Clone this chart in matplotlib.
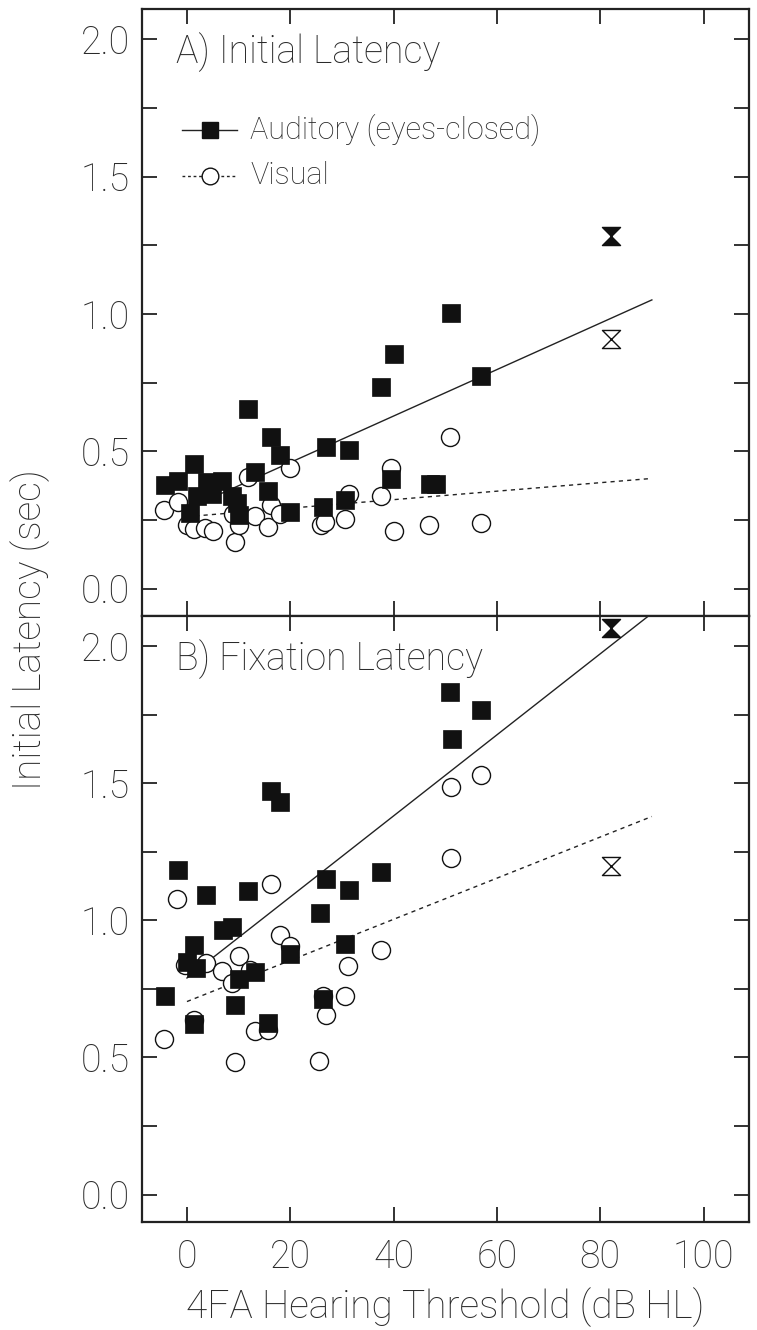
import matplotlib
matplotlib.use("Agg")
import matplotlib.pyplot as plt
from matplotlib.path import Path
from matplotlib.ticker import FixedLocator, FuncFormatter

plt.rcParams["font.family"] = ["Roboto", "DejaVu Sans"]
plt.rcParams["font.weight"] = "light"
plt.rcParams["axes.labelweight"] = "light"

# --- data ---
# A) initial latency
aud_a_x = [-4.3, -1.8, 0.6, 1.3, 1.9, 3.9, 4.8, 6.8, 8.7, 9.7, 10.0, 11.9, 13.1, 15.7,
           16.3, 18.1, 20.0, 26.3, 26.9, 30.6, 31.3, 37.5, 39.5, 40.0, 47.0, 48.2, 51.2, 57.0]
aud_a_y = [0.377, 0.393, 0.277, 0.452, 0.338, 0.387, 0.344, 0.393, 0.338, 0.31, 0.268, 0.654,
           0.423, 0.356, 0.553, 0.487, 0.280, 0.296, 0.515, 0.324, 0.505, 0.734, 0.399, 0.855,
           0.381, 0.379, 1.005, 0.774]
vis_a_x = [-4.4, -1.8, 0.0, 1.3, 3.5, 5.0, 9.0, 9.3, 10.0, 11.8, 13.2, 15.7, 16.2, 18.1, 19.9,
           26.0, 26.8, 30.6, 31.3, 37.5, 39.5, 40.0, 46.9, 51.0, 57.0]
vis_a_y = [0.285, 0.314, 0.232, 0.216, 0.219, 0.211, 0.27, 0.170, 0.233, 0.407, 0.265, 0.225,
           0.304, 0.271, 0.439, 0.231, 0.243, 0.253, 0.344, 0.338, 0.438, 0.211, 0.231, 0.553, 0.237]

# B) fixation latency
aud_b_x = [-4.3, -1.8, 0.0, 1.3, 1.3, 1.8, 3.7, 7.0, 8.7, 9.3, 10.1, 11.9, 13.1, 15.7, 16.3,
           18.1, 20.0, 25.7, 26.3, 26.9, 30.6, 31.3, 37.5, 51.0, 51.3, 57.0]
aud_b_y = [0.723, 1.185, 0.848, 0.912, 0.623, 0.827, 1.091, 0.964, 0.976, 0.693, 0.785, 1.107,
           0.811, 0.625, 1.472, 1.432, 0.878, 1.028, 0.714, 1.150, 0.915, 1.112, 1.176, 1.833,
           1.661, 1.766]
vis_b_x = [-4.4, -1.9, -0.3, 1.3, 3.7, 6.8, 8.7, 9.3, 10.0, 12.2, 13.1, 15.7, 16.2, 18.1, 20.0,
           25.6, 26.3, 26.9, 30.6, 31.2, 37.5, 51.1, 51.1, 57.0]
vis_b_y = [0.566, 1.077, 0.836, 0.635, 0.844, 0.815, 0.773, 0.483, 0.869, 0.82, 0.596, 0.601,
           1.134, 0.948, 0.905, 0.489, 0.726, 0.656, 0.726, 0.832, 0.893, 1.229, 1.487, 1.529]

# separate subject drawn with hourglass symbol
extra_x = [82.0]
aud_extra = {"A": [1.282], "B": [2.065]}
vis_extra = {"A": [0.91], "B": [1.20]}

# regression lines (end points)
fit_x = [0.0, 90.0]
aud_fit = {"A": [0.29, 1.051], "B": [0.79, 2.12]}
vis_fit = {"A": [0.262, 0.401], "B": [0.704, 1.379]}

panel_titles = {"A": "A) Initial Latency", "B": "B) Fixation Latency"}
x_ticks = [0, 20, 40, 60, 80, 100]
y_ticks = [0.0, 0.25, 0.5, 0.75, 1.0, 1.25, 1.5, 1.75, 2.0]

TXT = "#2a2a2a"
FS = 26
hourglass = Path([(-1, 1), (1, 1), (-1, -1), (1, -1), (-1, 1)],
                 [Path.MOVETO, Path.LINETO, Path.LINETO, Path.LINETO, Path.CLOSEPOLY])

fig = plt.figure(figsize=(7.57, 13.3), dpi=100)
ax_a = fig.add_axes([0.1876, 0.5368, 0.8018, 0.4564])
ax_b = fig.add_axes([0.1876, 0.0812, 0.8018, 0.4556])

data = {
    "A": (ax_a, aud_a_x, aud_a_y, vis_a_x, vis_a_y),
    "B": (ax_b, aud_b_x, aud_b_y, vis_b_x, vis_b_y),
}

for key, (ax, ax_x, ax_y, vx, vy) in data.items():
    ax.plot(fit_x, aud_fit[key], "-", color="#222222", lw=1.0, zorder=2)
    ax.plot(fit_x, vis_fit[key], color="#222222", lw=1.0, dashes=(3, 3), zorder=2)
    ax.plot(vx, vy, "o", ms=13, mfc="white", mec="#111111", mew=1.0, zorder=3)
    ax.plot(ax_x, ax_y, "s", ms=13, mfc="#111111", mec="#111111", mew=0.5, zorder=4)
    ax.plot(extra_x, vis_extra[key], marker=hourglass, ms=13, mfc="white", mec="#111111",
            mew=1.0, ls="none", zorder=4)
    ax.plot(extra_x, aud_extra[key], marker=hourglass, ms=13, mfc="#111111", mec="#111111",
            mew=1.0, ls="none", zorder=4)

    ax.set_xlim(-8.7, 108.8)
    ax.set_ylim(-0.1, 2.11)
    ax.xaxis.set_major_locator(FixedLocator(x_ticks))
    ax.yaxis.set_major_locator(FixedLocator(y_ticks))
    ax.yaxis.set_major_formatter(
        FuncFormatter(lambda v, p: f"{v:.1f}" if abs(v * 2 - round(v * 2)) < 1e-6 else ""))
    ax.tick_params(axis="both", direction="in", length=11, width=1.3, color="#222222",
                   top=True, right=True, labelsize=FS + 1, labelcolor=TXT)
    ax.tick_params(axis="y", pad=9)
    ax.tick_params(axis="x", pad=12)
    for s in ax.spines.values():
        s.set_linewidth(1.6)
        s.set_color("#222222")
    ax.text(0.0555, 0.9117, panel_titles[key], transform=ax.transAxes, fontsize=FS + 1,
            color=TXT, ha="left", va="baseline")

ax_a.tick_params(axis="x", labelbottom=False)
ax_b.set_xlabel("4FA Hearing Threshold (dB HL)", fontsize=FS + 2, color=TXT, labelpad=8)
fig.text(30 / 757, 1 - 630 / 1330, "Initial Latency (sec)", rotation=90, fontsize=FS + 2,
         color=TXT, ha="center", va="center")

# legend (drawn by hand)
leg_rows = [(0.801, "-", "s", "#111111", "Auditory (eyes-closed)"),
            (0.725, (0, (2, 2)), "o", "white", "Visual")]
for ly, ls, mk, fc, label in leg_rows:
    ax_a.plot([0.066, 0.157], [ly, ly], ls=ls, color="#222222", lw=1.0,
              transform=ax_a.transAxes, clip_on=False)
    ax_a.plot([0.1115], [ly], marker=mk, ms=12, mfc=fc, mec="#111111", mew=1.0,
              transform=ax_a.transAxes, clip_on=False)
    ax_a.text(0.178, ly, label, transform=ax_a.transAxes, fontsize=22, color=TXT,
              ha="left", va="center")

fig.savefig("out.png", dpi=100)
